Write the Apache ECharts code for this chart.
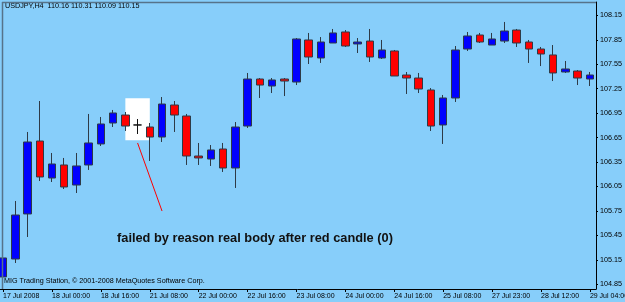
<!DOCTYPE html>
<html><head><meta charset="utf-8">
<script src="https://cdn.jsdelivr.net/npm/echarts@6/dist/echarts.min.js"></script>
<style>html,body{margin:0;padding:0;background:#87CEFA;}#c{width:625px;height:302px;}</style>
</head><body><div id="c"></div>
<script>
// ---- data ----
const barTimes = [
 '17 Jul 08:00','17 Jul 12:00','17 Jul 16:00','17 Jul 20:00',
 '18 Jul 00:00','18 Jul 04:00','18 Jul 08:00','18 Jul 12:00','18 Jul 16:00','18 Jul 20:00',
 '21 Jul 00:00','21 Jul 04:00','21 Jul 08:00','21 Jul 12:00','21 Jul 16:00','21 Jul 20:00',
 '22 Jul 00:00','22 Jul 04:00','22 Jul 08:00','22 Jul 12:00','22 Jul 16:00','22 Jul 20:00',
 '23 Jul 00:00','23 Jul 04:00','23 Jul 08:00','23 Jul 12:00','23 Jul 16:00','23 Jul 20:00',
 '24 Jul 00:00','24 Jul 04:00','24 Jul 08:00','24 Jul 12:00','24 Jul 16:00','24 Jul 20:00',
 '25 Jul 00:00','25 Jul 04:00','25 Jul 08:00','25 Jul 12:00','25 Jul 16:00','25 Jul 20:00',
 '27 Jul 23:00','28 Jul 00:00','28 Jul 04:00','28 Jul 08:00','28 Jul 12:00','28 Jul 16:00','28 Jul 20:00',
 '29 Jul 00:00','29 Jul 04:00'
];
const tickLabels = ['17 Jul 2008','18 Jul 00:00','18 Jul 16:00','21 Jul 08:00','22 Jul 00:00','22 Jul 16:00',
 '23 Jul 08:00','24 Jul 00:00','24 Jul 16:00','25 Jul 08:00','27 Jul 23:00','28 Jul 12:00','29 Jul 04:00'];
const opens = [104.94,105.16,105.713,106.608,106.154,106.314,106.068,106.314,106.572,106.829,
 106.927,106.805,106.78,106.657,107.05,106.915,106.424,106.387,106.51,106.277,
 106.792,107.369,107.283,107.369,107.332,107.848,107.627,107.811,107.946,107.799,
 107.835,107.627,107.713,107.418,107.381,107.234,106.805,107.136,107.737,107.909,
 107.786,107.835,107.97,107.823,107.737,107.664,107.455,107.467,107.369];
const closes = [105.173,105.70,106.596,106.167,106.326,106.044,106.302,106.584,106.817,106.952,
 106.792,106.805,106.657,107.062,106.927,106.424,106.40,106.498,106.277,106.78,
 107.369,107.295,107.357,107.344,107.86,107.639,107.823,107.934,107.774,107.823,
 107.639,107.725,107.406,107.381,107.246,106.792,107.136,107.725,107.897,107.823,
 107.86,107.958,107.811,107.737,107.676,107.443,107.492,107.381,107.418];
const lows = [104.866,105.111,105.43,106.117,106.105,106.019,105.97,106.253,106.547,106.78,
 106.731,106.694,106.363,106.596,106.719,106.314,106.314,106.302,106.228,106.032,
 106.768,107.136,107.197,107.16,107.295,107.553,107.566,107.811,107.762,107.688,
 107.578,107.615,107.406,107.185,107.197,106.731,106.572,107.087,107.713,107.811,
 107.786,107.811,107.762,107.566,107.528,107.344,107.443,107.295,107.283];
const highs = [105.479,105.872,106.719,107.099,106.461,106.40,106.461,106.94,106.903,106.989,
 106.964,106.878,106.829,107.148,107.099,106.94,106.584,106.559,106.584,106.841,
 107.443,107.381,107.381,107.381,107.872,107.934,107.884,107.983,107.97,107.872,
 107.983,107.848,107.725,107.455,107.443,107.258,107.173,107.774,107.946,107.934,
 107.934,108.069,107.983,107.848,107.762,107.786,107.59,107.479,107.455];
const priceTicks = [104.85,105.15,105.45,105.75,106.05,106.35,106.65,106.95,107.25,107.55,107.85,108.15];
const priceMin = 104.792, priceMax = 108.314;
const titleText = 'USDJPY,H4  110.16 110.31 110.09 110.15';
const copyrightText = 'MIG Trading Station, \u00A9 2001-2008 MetaQuotes Software Corp.';
const noteText = 'failed by reason real body after red candle (0)';
const boxBars = [10, 12];
const boxPrices = [107.132, 106.617];
const arrowBars = [11, 13];
const arrowPrices = [106.584, 105.749];

// ---- chart ----
const candles = opens.map((o, i) => [o, closes[i], lows[i], highs[i]]);
const FONT = '"Liberation Sans", Arial, sans-serif';
const chart = echarts.init(document.getElementById('c'), null, {renderer: 'canvas'});
chart.setOption({
  animation: false,
  backgroundColor: '#87CEFA',
  textStyle: {fontFamily: FONT},
  title: [
    {text: titleText, left: 5, top: 3, padding: 0, textStyle: {fontSize: 7.2, fontWeight: 'normal', color: '#000', fontFamily: FONT}},
    {text: copyrightText, left: 4, top: 278, padding: 0, textStyle: {fontSize: 7.2, fontWeight: 'normal', color: '#000', fontFamily: FONT}},
    {text: noteText, left: 117, top: 232, padding: 0, textStyle: {fontSize: 12.8, fontWeight: 'bold', color: '#111', fontFamily: FONT}}
  ],
  grid: {left: -3, right: 29, top: 2, bottom: 13, containLabel: false, outerBoundsMode: 'none'},
  xAxis: {
    type: 'category', data: barTimes, boundaryGap: true,
    axisLine: {show: true, lineStyle: {color: '#000', width: 1}},
    axisTick: {show: true, length: 3, alignWithLabel: true, interval: (i) => i % 4 === 0, lineStyle: {color: '#000'}},
    axisLabel: {show: true, interval: (i) => i % 4 === 0, align: 'left', margin: 4, fontSize: 7, color: '#000', fontFamily: FONT,
      formatter: (v, i) => tickLabels[Math.round(i / 4)]},
    splitLine: {show: false}
  },
  yAxis: {
    type: 'value', position: 'right', min: priceMin, max: priceMax, scale: true,
    axisLine: {show: true, lineStyle: {color: '#000', width: 1}},
    axisTick: {show: true, length: 2, customValues: priceTicks, lineStyle: {color: '#000'}},
    axisLabel: {show: true, customValues: priceTicks, margin: 4, fontSize: 7.2, color: '#000', fontFamily: FONT,
      formatter: (v) => v.toFixed(2)},
    splitLine: {show: false}
  },
  series: [
    {
      type: 'line', data: [], z: 1, silent: true,
      markArea: {silent: true, itemStyle: {color: '#ffffff', opacity: 1},
        data: [[{coord: [barTimes[boxBars[0]], boxPrices[0]]}, {coord: [barTimes[boxBars[1]], boxPrices[1]]}]]},
      markLine: {silent: true, symbol: ['none', 'none'], label: {show: false},
        lineStyle: {color: '#ff0000', width: 1, type: 'solid'},
        data: [[{coord: [barTimes[arrowBars[0]], arrowPrices[0]]}, {coord: [barTimes[arrowBars[1]], arrowPrices[1]]}]]}
    },
    {
      type: 'candlestick', data: candles, z: 3, barWidth: 8, clip: true,
      itemStyle: {color: '#0000ff', color0: '#ff0000', borderColor: '#2e3a46', borderColor0: '#2e3a46', borderColorDoji: '#111', borderWidth: 1}
    }
  ],
  graphic: [
    {type: 'line', shape: {x1: 2.5, y1: 2, x2: 2.5, y2: 289}, style: {stroke: '#56738a', lineWidth: 1.5}, z: 10},
    {type: 'line', shape: {x1: 2, y1: 2.5, x2: 596, y2: 2.5}, style: {stroke: '#56738a', lineWidth: 1.5}, z: 10}
  ]
});
</script></body></html>
